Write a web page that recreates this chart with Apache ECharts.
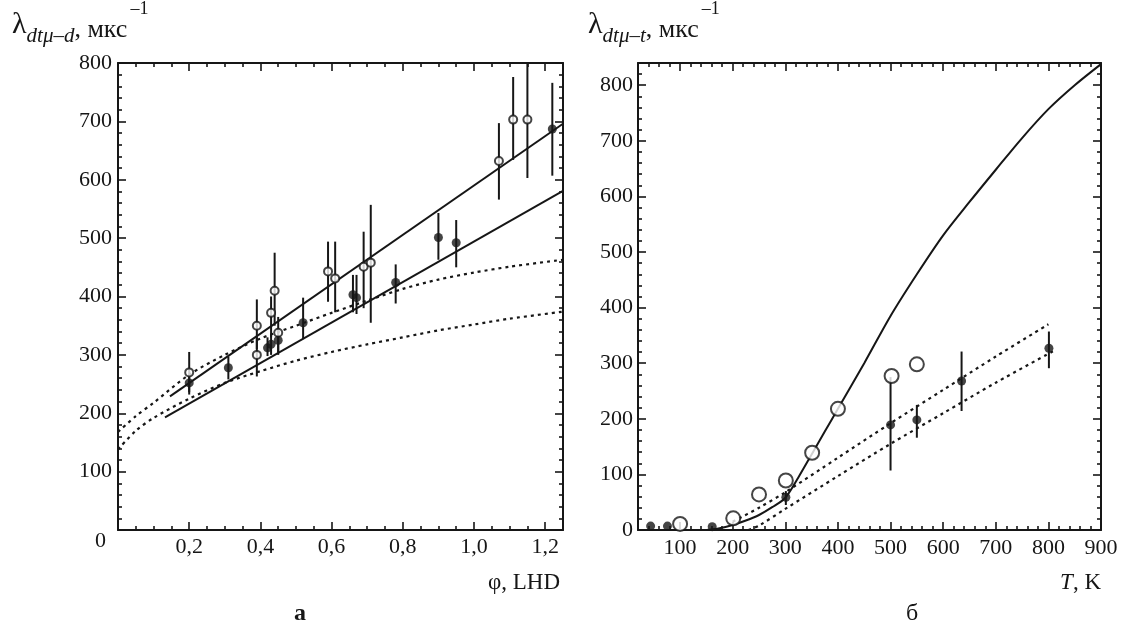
<!DOCTYPE html>
<html>
<head>
<meta charset="utf-8">
<script src="https://cdn.jsdelivr.net/npm/echarts@6/dist/echarts.min.js"></script>
<style>
  html, body { margin: 0; background: #fff; }
  #chart { width: 1127px; height: 625px; }
</style>
</head>
<body>
<div id="chart"></div>
<script>
// ---- panel а : lambda vs phi (LHD) ----
const phiOpen = [0.20, 0.39, 0.39, 0.43, 0.44, 0.45, 0.59, 0.61, 0.69, 0.71, 1.07, 1.11, 1.15];
const lamOpen = [270, 350, 300, 372, 410, 338, 443, 431, 451, 458, 632, 703, 703];
const loOpen  = [236, 310, 263, 330, 350, 300, 391, 373, 380, 355, 566, 634, 603];
const hiOpen  = [305, 395, 330, 400, 475, 365, 494, 494, 511, 557, 697, 776, 800];

const phiFull = [0.20, 0.31, 0.42, 0.43, 0.45, 0.52, 0.66, 0.67, 0.78, 0.90, 0.95, 1.22];
const lamFull = [252, 278, 312, 318, 325, 355, 403, 398, 424, 501, 492, 687];
const loFull  = [232, 258, 298, 300, 305, 327, 373, 370, 388, 463, 450, 607];
const hiFull  = [268, 297, 330, 335, 345, 398, 437, 437, 455, 543, 531, 766];

const phiSolidUp = [0.146, 1.25];
const lamSolidUp = [229, 696];
const phiSolidLo = [0.132, 1.25];
const lamSolidLo = [193, 581];

const phiCurve = [0, 0.05, 0.1, 0.2, 0.3, 0.4, 0.5, 0.6, 0.7, 0.8, 0.9, 1.0, 1.1, 1.25];
const lamDotUp = [168, 195, 218, 266, 300, 328, 350, 372, 393, 413, 429, 441, 451, 463];
const lamDotLo = [138, 170, 192, 225, 252, 272, 290, 305, 318, 330, 342, 352, 362, 374];

const phiTicks = [0.2, 0.4, 0.6, 0.8, 1.0, 1.2];
const phiMinor = [0.05, 0.1, 0.15, 0.25, 0.3, 0.35, 0.45, 0.5, 0.55, 0.65, 0.7, 0.75,
                  0.85, 0.9, 0.95, 1.05, 1.1, 1.15];
const lamTicksA = [0, 100, 200, 300, 400, 500, 600, 700, 800];

// ---- panel б : lambda vs T ----
const tOpen   = [100, 201, 250, 301, 351, 400, 502, 550];
const lamTOpen = [11, 21, 64, 89, 139, 218, 277, 298];

const tFull    = [44, 76, 161, 301, 500, 550, 635, 801];
const lamTFull = [7, 7, 6, 59, 189, 198, 268, 327];
const loTFull  = [7, 7, 6, 45, 107, 166, 214, 291];
const hiTFull  = [7, 7, 6, 70, 275, 225, 321, 357];

const tSolid   = [150, 175, 200, 225, 250, 275, 300, 325, 350, 375, 400, 450, 500, 550, 600, 650, 700, 750, 800, 850, 900];
const lamSolid = [0, 3, 9, 17, 27, 41, 58, 95, 136, 177, 218, 300, 385, 460, 530, 590, 648, 705, 757, 800, 838];

const tDotUp   = [200, 250, 300, 400, 500, 600, 700, 800];
const lamDotUpT = [15, 40, 68, 130, 192, 252, 312, 370];
const tDotLo   = [230, 250, 300, 400, 500, 600, 700, 810];
const lamDotLoT = [0, 8, 38, 97, 155, 210, 265, 322];

const tTicks = [100, 200, 300, 400, 500, 600, 700, 800, 900];
const tMinor = [];
const lamTicksB = [0, 100, 200, 300, 400, 500, 600, 700, 800];
const lamMinorA = [];
const lamMinorB = [];
// minor tick positions every 20 between labelled ticks
[20, 40, 60, 80].forEach(d => {
  [0, 100, 200, 300, 400, 500, 600, 700, 800].forEach(b => {
    if (b + d > 20 && b + d < 900) tMinor.push(b + d);
    if (b + d < 800) lamMinorA.push(b + d);
    if (b + d < 840) lamMinorB.push(b + d);
  });
});

const FONT = 'Liberation Serif';
const INK = '#161616';

const pairs = (xs, ys) => xs.map((x, i) => [x, ys[i]]);

function axisSet(gridIndex, min, max, majors, minors, posA, posB, label) {
  const base = {
    gridIndex, type: 'value', min, max,
    splitLine: { show: false },
    axisLine: { onZero: false, lineStyle: { color: INK, width: 2 } },
    axisLabel: { show: false }
  };
  const tick = (vals, len) => ({
    show: true, inside: true, length: len, customValues: vals,
    lineStyle: { color: INK, width: 1.6 }
  });
  return [
    Object.assign({}, base, { position: posA, axisTick: tick(majors, 8), axisLabel: label }),
    Object.assign({}, base, { position: posB, axisTick: tick(majors, 8) }),
    Object.assign({}, base, { position: posA, axisLine: { show: false, onZero: false }, axisTick: tick(minors, 4) }),
    Object.assign({}, base, { position: posB, axisLine: { show: false, onZero: false }, axisTick: tick(minors, 4) })
  ];
}

const labelStyle = { show: true, color: INK, fontFamily: FONT, fontSize: 22 };

const xAxes = [].concat(
  axisSet(0, 0, 1.25, phiTicks, phiMinor, 'bottom', 'top',
    Object.assign({}, labelStyle, { customValues: phiTicks, margin: 6,
      formatter: v => v.toFixed(1).replace('.', ',') })),
  axisSet(1, 20, 900, tTicks, tMinor, 'bottom', 'top',
    Object.assign({}, labelStyle, { customValues: tTicks, margin: 7 }))
);
const yAxes = [].concat(
  axisSet(0, 0, 800, lamTicksA, lamMinorA, 'left', 'right',
    Object.assign({}, labelStyle, { customValues: lamTicksA, margin: 6,
      formatter: v => v === 0 ? '{z|0}' : String(v),
      rich: { z: { fontFamily: FONT, fontSize: 22, color: INK, padding: [22, 6, 0, 0] } } })),
  axisSet(1, 0, 840, lamTicksB, lamMinorB, 'left', 'right',
    Object.assign({}, labelStyle, { customValues: lamTicksB, margin: 5 }))
);

function errBars(xs, lo, hi, axisIndex) {
  return {
    type: 'custom', xAxisIndex: axisIndex, yAxisIndex: axisIndex, silent: true, z: 2, clip: true,
    data: xs.map((x, i) => [x, lo[i], hi[i]]),
    encode: { x: 0, y: [1, 2] },
    renderItem: (params, api) => {
      const a = api.coord([api.value(0), api.value(1)]);
      const b = api.coord([api.value(0), api.value(2)]);
      return { type: 'line', shape: { x1: a[0], y1: a[1], x2: b[0], y2: b[1] },
               style: { stroke: INK, lineWidth: 2 } };
    }
  };
}

function line(data, axisIndex, dotted, smooth) {
  return {
    type: 'line', xAxisIndex: axisIndex, yAxisIndex: axisIndex, data,
    showSymbol: false, smooth: smooth ? 0.3 : false, silent: true, z: 3,
    lineStyle: { color: INK, width: dotted ? 2.2 : 2, type: dotted ? [3, 4] : 'solid' }
  };
}

function points(data, axisIndex, hollow, size) {
  return {
    type: 'scatter', xAxisIndex: axisIndex, yAxisIndex: axisIndex, data,
    symbol: 'circle', symbolSize: size, silent: true, z: 5,
    itemStyle: hollow ? { color: '#fff', borderColor: INK, borderWidth: 2 } : { color: INK }
  };
}

// y-axis caption: lambda with subscript, unit with superscript
// every token is top-aligned, its top padding sets its height in the line
function caption(sub) {
  return {
    text: '{l|λ}{s|' + sub + '}{n|, мкс}{p|–1}',
    rich: {
      l: { fontFamily: FONT, fontSize: 30, verticalAlign: 'top', padding: [12, 0, 0, 0], fill: INK },
      s: { fontFamily: FONT, fontSize: 21, fontStyle: 'italic', verticalAlign: 'top', padding: [28, 0, 0, 0], fill: INK },
      n: { fontFamily: FONT, fontSize: 26, verticalAlign: 'top', padding: [19, 0, 0, 0], fill: INK },
      p: { fontFamily: FONT, fontSize: 18, verticalAlign: 'top', padding: [2, 0, 0, 3], fill: INK }
    }
  };
}

const chart = echarts.init(document.getElementById('chart'));

chart.setOption({
  backgroundColor: '#fff',
  animation: false,
  grid: [
    { left: 118, top: 63, width: 445, height: 467 },
    { left: 638, top: 63, width: 463, height: 467 }
  ],
  xAxis: xAxes,
  yAxis: yAxes,
  series: [
    line(pairs(phiSolidUp, lamSolidUp), 0, false, false),
    line(pairs(phiSolidLo, lamSolidLo), 0, false, false),
    line(pairs(phiCurve, lamDotUp), 0, true, true),
    line(pairs(phiCurve, lamDotLo), 0, true, true),
    errBars(phiOpen, loOpen, hiOpen, 0),
    errBars(phiFull, loFull, hiFull, 0),
    points(pairs(phiOpen, lamOpen), 0, true, 8),
    points(pairs(phiFull, lamFull), 0, false, 9),

    line(pairs(tSolid, lamSolid), 4, false, true),
    line(pairs(tDotUp, lamDotUpT), 4, true, true),
    line(pairs(tDotLo, lamDotLoT), 4, true, true),
    errBars(tFull, loTFull, hiTFull, 4),
    points(pairs(tOpen, lamTOpen), 4, true, 14),
    points(pairs(tFull, lamTFull), 4, false, 9)
  ],
  graphic: [
    { type: 'text', left: 12, top: 0, style: caption('dtμ–d') },
    { type: 'text', left: 588, top: 0, style: caption('dtμ–t') },
    { type: 'text', right: 1127 - 560, top: 571, style: {
        text: 'φ, LHD', fontFamily: FONT, fontSize: 23, fill: INK } },
    { type: 'text', right: 1127 - 1101, top: 571, style: {
        text: '{i|T}, K',
        fontFamily: FONT, fontSize: 23, fill: INK,
        rich: { i: { fontFamily: FONT, fontSize: 23, fontStyle: 'italic', fill: INK } } } },
    { type: 'text', x: 300, y: 614, style: {
        text: 'а', fontFamily: FONT, fontSize: 24, fontWeight: 'bold', fill: INK,
        align: 'center', verticalAlign: 'middle' } },
    { type: 'text', x: 912, y: 614, style: {
        text: 'б', fontFamily: FONT, fontSize: 24, fill: INK,
        align: 'center', verticalAlign: 'middle' } }
  ]
});
</script>
</body>
</html>
